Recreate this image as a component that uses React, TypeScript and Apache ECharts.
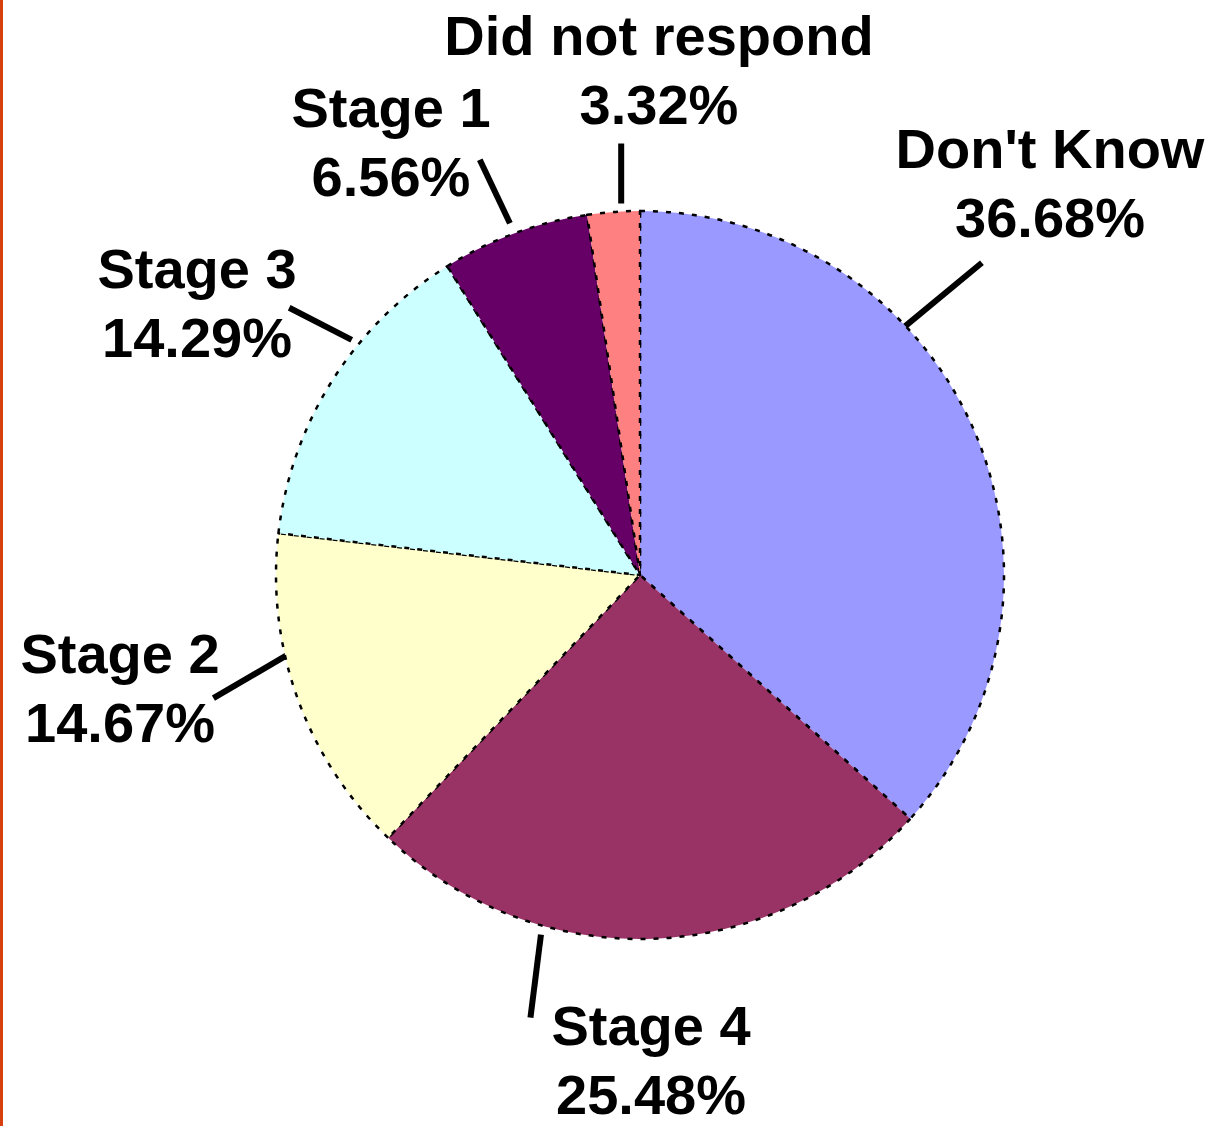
import React, { useEffect, useRef } from "react";
import * as echarts from "echarts";

// Slice order is clockwise from 12 o'clock, as in the reference.
const categories = ["Don't Know", "Stage 4", "Stage 2", "Stage 3", "Stage 1", "Did not respond"];
// Slice sizes (they sum to 100; the last slice is ~2.3% wide).
const shares = [36.68, 25.48, 14.67, 14.29, 6.56, 2.32];
// Percent texts exactly as printed on the chart.
const percentLabels = ["36.68%", "25.48%", "14.67%", "14.29%", "6.56%", "3.32%"];
const sliceColors = ["#9999FF", "#993366", "#FFFFCC", "#CCFFFF", "#660066", "#FF8080"];

// Layout (not data): pie geometry, label anchors and leader-line directions.
const CX = 640;
const CY = 575;
const R = 364;
const labelAnchors: [number, number][] = [
  [1050, 183],
  [651, 1060],
  [120, 688],
  [197, 303],
  [391, 142],
  [659, 70],
];
// leader line: [start angle, start radius, end angle, end radius]
// angles in degrees clockwise from 12 o'clock
const leaders: [number, number, number, number][] = [
  [46.8, 361, 47.6, 463],
  [195.4, 373, 193.9, 456],
  [257.2, 362, 253.9, 444],
  [309.2, 372, 307.3, 441],
  [339.7, 375, 338.9, 445],
  [357.1, 372, 357.5, 432],
];

function polar(angleDeg: number, r: number): [number, number] {
  const a = (angleDeg * Math.PI) / 180;
  return [CX + Math.sin(a) * r, CY - Math.cos(a) * r];
}

export default function App() {
  const ref = useRef<HTMLDivElement>(null);
  useEffect(() => {
    if (!ref.current) return;
    const chart = echarts.init(ref.current, undefined, { renderer: "svg" });
    const data = categories.map((name, i) => ({
      name,
      value: shares[i],
      itemStyle: { color: sliceColors[i] },
    }));
    chart.setOption({
      animation: false,
      backgroundColor: "#ffffff",
      graphic: [
        {
          type: "rect",
          left: 0,
          top: 0,
          shape: { x: 0, y: 0, width: 3, height: 1126 },
          style: { fill: "#D5400E" },
        },
      ],
      series: [
        {
          type: "pie",
          center: [CX, CY],
          radius: [0, R],
          startAngle: 90,
          clockwise: true,
          avoidLabelOverlap: false,
          data,
          itemStyle: {
            borderColor: "#000000",
            borderWidth: 2.5,
            borderType: [5, 8],
          },
          emphasis: { disabled: true },
          label: {
            show: true,
            position: "outside",
            formatter: (p: any) => `${p.name}\n${percentLabels[p.dataIndex]}`,
            color: "#000000",
            fontFamily: "'Liberation Sans', Arial, sans-serif",
            fontWeight: "bold",
            fontSize: 56,
            lineHeight: 69,
            align: "center",
          },
          labelLine: {
            show: true,
            length: 20,
            length2: 0,
            smooth: false,
            lineStyle: { color: "#000000", width: 6 },
          },
          labelLayout: (params: any) => {
            const i = params.dataIndex;
            const [x, y] = labelAnchors[i];
            const [a0, r0, a1, r1] = leaders[i];
            return {
              x,
              y,
              align: "center",
              verticalAlign: "middle",
              labelLinePoints: [polar(a0, r0), polar(a1, r1)],
            };
          },
        },
      ],
    });
    return () => chart.dispose();
  }, []);
  return (
    <div
      ref={ref}
      style={{ position: "fixed", left: 0, top: 0, width: 1214, height: 1126, background: "#fff" }}
    />
  );
}
